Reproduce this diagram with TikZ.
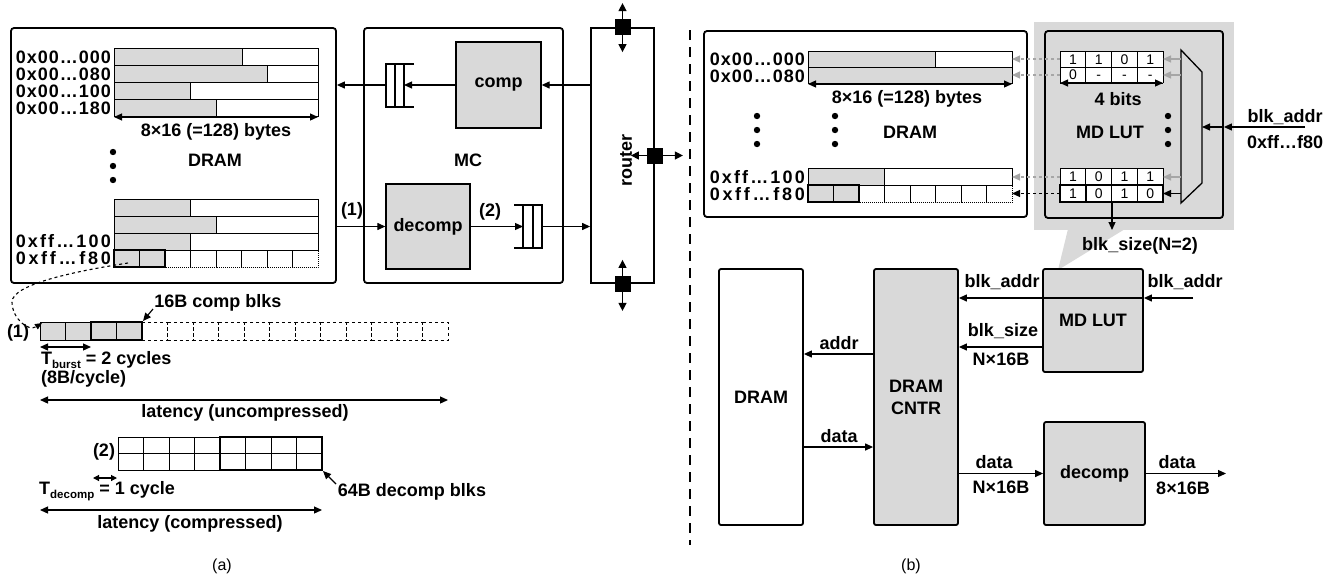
\documentclass[tikz,border=0pt]{standalone}
\usepackage{fontspec}
\setmainfont{Liberation Sans}
\usetikzlibrary{arrows.meta,calc}
\definecolor{gfill}{HTML}{D9D9D9}
\definecolor{garr}{HTML}{A6A6A6}
\newcommand\lblfont{\fontsize{18}{22}\selectfont\bfseries}
\def\spA#1{#1\spB}
\def\spB#1{\ifx#1\relax\else\hfil#1\expandafter\spB\fi}
\newcommand\addrlbl[1]{\makebox[95pt][s]{\spA#1\relax}}
\newcommand\grayrow[5]{%
  \fill[gfill] (#1,#2) rectangle (#5,#4);
  \draw[cell] (#1,#2) rectangle (#3,#4);
  \draw[cell] (#5,#2) -- (#5,#4);}
\begin{document}
\begin{tikzpicture}[x=1pt,y=-1pt,
  arr/.style={line width=1.2pt,-{Triangle[length=8pt,width=7pt]}},
  darr/.style={line width=1.2pt,{Triangle[length=8pt,width=7pt]}-{Triangle[length=8pt,width=7pt]}},
  rdarr/.style={line width=1.3pt,{Triangle[length=8pt,width=8pt]}-{Triangle[length=8pt,width=8pt]}},
  sdarr/.style={line width=1.2pt,{Triangle[length=6pt,width=6pt]}-{Triangle[length=6pt,width=6pt]}},
  box/.style={draw,line width=1.8pt,rounded corners=3pt,inner sep=0pt},
  gbox/.style={draw,line width=1.3pt,fill=gfill,inner sep=0pt,font=\lblfont},
  lbl/.style={inner sep=0pt,font=\lblfont},
  cell/.style={draw,line width=0.9pt},
  thk/.style={draw,line width=2.2pt},
  que/.style={line width=1.5pt},
  dotc/.style={draw,line width=1pt,densely dotted},
  dashc/.style={draw,line width=0.9pt,dashed},
  num/.style={inner sep=0pt,font=\fontsize{14}{14}\selectfont,text height=10pt,text depth=0pt},
  garrow/.style={line width=1.2pt,garr,dashed,-{Triangle[length=8pt,width=7pt]}},
  gsolid/.style={line width=1.2pt,garr,-{Triangle[length=8pt,width=7pt]}},
]
\useasboundingbox (0,0) rectangle (1340,584);

% ================= (a) =================
\node[box,minimum width=325pt,minimum height=255pt] (dramA) at (173.5,155.5) {};
\grayrow{114}{48}{318}{65}{242}
\grayrow{114}{65}{318}{82}{267}
\grayrow{114}{82}{318}{99}{190}
\grayrow{114}{99}{318}{116}{216}
\node[lbl,anchor=east] (aA1) at (111,57) {\addrlbl{0x00…000}};
\node[lbl,anchor=east] (aA2) at (111,74) {\addrlbl{0x00…080}};
\node[lbl,anchor=east] (aA3) at (111,91) {\addrlbl{0x00…100}};
\node[lbl,anchor=east] (aA4) at (111,108) {\addrlbl{0x00…180}};
\coordinate (bA1) at (114,117); \coordinate (bA2) at (318,117);
\draw[darr] (bA1) -- (bA2);
\node[lbl] (bytesA) at (216,132) {8×16 (=128) bytes};
\foreach \yy in {152,166,180} \fill (113,\yy) circle (3.2pt);
\node[lbl] (dramAl) at (215,160) {DRAM};
\grayrow{114}{199}{318}{216}{190}
\grayrow{114}{216}{318}{233}{216}
\grayrow{114}{233}{318}{250}{190}
\fill[gfill] (114,250) rectangle (165,267);
\foreach \i in {0,...,7} \draw[dotc] ({114+25.5*\i},250) rectangle ++(25.5,17);
\draw[thk] (114,250) rectangle (165,267);
\node[lbl,anchor=east] (aA5) at (111,241) {\addrlbl{0xff…100}};
\node[lbl,anchor=east] (aA6) at (111,258) {\addrlbl{0xff…f80}};

% MC
\node[box,minimum width=199pt,minimum height=255pt] (mc) at (463.5,155.5) {};
\node[lbl] (mcl) at (468,160) {MC};
\node[gbox,minimum width=85pt,minimum height=86pt] (comp) at (498.5,85) {comp};
\node[gbox,minimum width=84pt,minimum height=85pt] (decomp) at (428,226.5) {decomp};
\draw[que] (414,64) -- (386,64) -- (386,107) -- (414,107);
\draw[que] (395,64) -- (395,107) (404,64) -- (404,107);
\coordinate (q1in) at (404,85); \coordinate (q1out) at (386,85);
\draw[que] (514,205) -- (542,205) -- (542,248) -- (514,248);
\draw[que] (523,205) -- (523,248) (533,205) -- (533,248);
\coordinate (q2in) at (523,226.5); \coordinate (q2out) at (542,226.5);

% router
\node[draw,line width=1.8pt,minimum width=63pt,minimum height=255pt,inner sep=0pt] (router) at (622.5,155.5) {};
\node[lbl,rotate=90] (routerl) at (626,160) {router};
\draw[arr] (comp.east -| router.west) -- (comp.east);
\draw[arr] (comp.west) -- (q1in);
\draw[arr] (q1out) -- (q1out -| dramA.east);
\draw[arr] (decomp.west -| dramA.east) -- (decomp.west);
\node[lbl] (l1) at (352,211) {(1)};
\draw[arr] (decomp.east) -- (q2in);
\node[lbl] (l2) at (490,212) {(2)};
\draw[arr] (q2out) -- (q2out -| router.west);
\draw[rdarr] ($(router.north)+(0,-24)$) -- ($(router.north)+(0,25)$);
\node[fill=black,minimum size=16pt,inner sep=0pt] (sq1) at (router.north) {};
\draw[rdarr] ($(router.east)+(-24,0)$) -- ($(router.east)+(28,0)$);
\node[fill=black,minimum size=16pt,inner sep=0pt] (sq2) at (router.east) {};
\draw[rdarr] ($(router.south)+(0,-24)$) -- ($(router.south)+(0,27)$);
\node[fill=black,minimum size=16pt,inner sep=0pt] (sq3) at (router.south) {};

% divider
\draw[line width=2pt,dash pattern=on 10pt off 7pt] (690,30) -- (690,545);

% bottom-left timeline
\fill[gfill] (40,322) rectangle (142,340);
\foreach \i in {0,...,3} \draw[cell] ({40+25.5*\i},322) rectangle ++(25.5,18);
\foreach \i in {4,...,15} \draw[dashc] ({40+25.5*\i},322) rectangle ++(25.5,18);
\draw[thk] (91,322) rectangle (142,340);
\coordinate (curveS) at (128,263);
\coordinate (r1start) at (42,323);
\draw[line width=1.1pt,dashed,-{Triangle[length=7pt,width=6pt]}] (curveS) .. controls (70,272) and (12,285) .. (12,302) .. controls (12,318) and (28,332) .. (r1start);
\node[lbl] (l1b) at (18,333) {(1)};
\node[lbl] (cblk) at (218,303) {16B comp blks};
\coordinate (cblkA) at (153,309); \coordinate (cblkB) at (143,321);
\draw[arr] (cblkA) -- (cblkB);
\coordinate (tb1) at (40,347); \coordinate (tb2) at (91,347);
\draw[darr] (tb1) -- (tb2);
\node[lbl,anchor=west] (tburst) at (41,360) {T\raisebox{-3.5pt}{\fontsize{11.5}{12}\selectfont burst} = 2 cycles};
\node[lbl,anchor=west] (bpc) at (41,379) {(8B/cycle)};
\coordinate (lu1) at (40,400); \coordinate (lu2) at (448,400);
\draw[darr] (lu1) -- (lu2);
\node[lbl] (lunc) at (245,413) {latency (uncompressed)};
\foreach \i in {0,...,8} \draw[cell] ({118+25.5*\i},437) -- ++(0,33);
\draw[cell] (118,437) -- (322,437) (118,453.5) -- (322,453.5) (118,470) -- (322,470);
\draw[thk] (220,437) rectangle (322,470);
\node[lbl] (l2b) at (104,452) {(2)};
\coordinate (td1) at (93,478); \coordinate (td2) at (117,478);
\draw[sdarr] (td1) -- (td2);
\node[lbl,anchor=west] (tdec) at (39,491) {T\raisebox{-3.5pt}{\fontsize{11.5}{12}\selectfont decomp} = 1 cycle};
\node[lbl] (dblk) at (412,492) {64B decomp blks};
\coordinate (dblkA) at (336,484); \coordinate (dblkB) at (323,471);
\draw[arr] (dblkA) -- (dblkB);
\coordinate (lc1) at (40,510); \coordinate (lc2) at (322,510);
\draw[darr] (lc1) -- (lc2);
\node[lbl] (lcomp) at (190,524) {latency (compressed)};

\node[font=\fontsize{16}{16}\selectfont] (capa) at (222,566) {(a)};
\node[font=\fontsize{16}{16}\selectfont] (capb) at (911,566) {(b)};

% ================= (b) top =================
\node[box,minimum width=323pt,minimum height=186pt] (dramB) at (865.5,124) {};
\grayrow{808}{51}{1012}{67}{935}
\fill[gfill] (808,67) rectangle (1012,83); \draw[cell] (808,67) rectangle (1012,83);
\draw[darr] (808,84) -- (1012,84);
\node[lbl] (bytesB) at (907,99) {8×16 (=128) bytes};
\foreach \xx in {757,835} \foreach \yy in {116,130,144} \fill (\xx,\yy) circle (3.2pt);
\node[lbl] (dramBl) at (910,132) {DRAM};
\grayrow{808}{168}{1012}{185}{884}
\fill[gfill] (808,185) rectangle (859,202);
\foreach \i in {0,...,7} \draw[dotc] ({808+25.5*\i},185) rectangle ++(25.5,17);
\draw[thk] (808,185) rectangle (859,202);
\node[lbl,anchor=east] (aB1) at (805,59) {\addrlbl{0x00…000}};
\node[lbl,anchor=east] (aB2) at (805,76) {\addrlbl{0x00…080}};
\node[lbl,anchor=east] (aB3) at (805,177) {\addrlbl{0xff…100}};
\node[lbl,anchor=east] (aB4) at (805,194) {\addrlbl{0xff…f80}};

% MD LUT callout
\fill[gfill] (1034,22) rectangle (1234,230);
\fill[gfill] (1068,229) -- (1125,229) -- (1058,270) -- cycle;
\node[box,fill=gfill,minimum width=178pt,minimum height=187pt] (mdlutA) at (1134,124.5) {};
% tables
\fill[white] (1060,51) rectangle (1163,83);
\fill[white] (1060,168) rectangle (1163,202);
\foreach \i in {0,...,4} {\draw[cell] ({1060+25.75*\i},51) -- ++(0,32);
  \draw[cell] ({1060+25.75*\i},168) -- ++(0,34);}
\draw[cell] (1060,51) -- (1163,51) (1060,67) -- (1163,67) (1060,83) -- (1163,83);
\draw[cell] (1060,168) -- (1163,168) (1060,185) -- (1163,185) (1060,202) -- (1163,202);
\foreach \v [count=\i from 0] in {1,1,0,1} \node[num] at ({1072.9+25.75*\i},59.5) {\v};
\foreach \v [count=\i from 0] in {0,-,-,-} \node[num] at ({1072.9+25.75*\i},74.5) {\v};
\foreach \v [count=\i from 0] in {1,0,1,1} \node[num] at ({1072.9+25.75*\i},176.5) {\v};
\foreach \v [count=\i from 0] in {1,0,1,0} \node[num] at ({1072.9+25.75*\i},193.5) {\v};
\draw[thk] (1060,185) rectangle (1163,202);
\draw[thk] (1085.75,185) -- (1085.75,202);
\draw[darr] (1060,83) -- (1163,83);
\node[lbl] (fourbits) at (1118,99) {4 bits};
\node[lbl] (mdlutAl) at (1110,132) {MD LUT};
\foreach \yy in {116,130,144} \fill (1168,\yy) circle (3.2pt);
% mux
\draw[line width=1.3pt] (1181,50) -- (1202,72) -- (1202,183) -- (1181,203) -- cycle;
\foreach \yy in {59,75,177} {
  \draw[gsolid] (1181,\yy) -- (1163,\yy);
  \draw[garrow] (1060,\yy) -- (1012,\yy);}
\draw[arr] (1181,193.5) -- (1163,193.5);
\draw[line width=1.2pt,dashed,-{Triangle[length=8pt,width=7pt]}] (1060,193.5) -- (1012,193.5);
\coordinate (ext) at (1305,127);
\coordinate (muxin) at (1202,127);
\draw[arr] (ext) -- (ext -| mdlutA.east);
\draw[arr] (ext -| mdlutA.east) -- (muxin);
\node[lbl] (baTop) at (1285,117) {blk\_addr};
\node[lbl] (adTop) at (1285,142) {0xff…f80};
\coordinate (bsA) at (1112,202); \coordinate (bsB) at (1112,230);
\draw[arr] (bsA) -- (bsB);
\node[lbl] (bsTop) at (1140,246) {blk\_size(N=2)};

% ================= (b) bottom =================
\node[draw,line width=1.8pt,rounded corners=2pt,minimum width=84pt,minimum height=256pt,inner sep=0pt,font=\lblfont] (dramC) at (761,397) {DRAM};
\node[gbox,line width=1.8pt,rounded corners=2pt,minimum width=84pt,minimum height=256pt,align=center] (cntr) at (916,397) {DRAM\\CNTR};
\node[gbox,line width=1.8pt,rounded corners=2pt,minimum width=100pt,minimum height=103pt] (mdlutB) at (1093,320.5) {MD LUT};
\node[gbox,line width=1.8pt,rounded corners=2pt,minimum width=101pt,minimum height=103pt] (decompB) at (1094.5,473.5) {decomp};
\coordinate (ba) at (1193,298);
\draw[arr] (ba) -- (ba -| mdlutB.east);
\draw[arr] (ba -| mdlutB.east) -- (ba -| cntr.east);
\node[lbl] (baL) at (1002,282) {blk\_addr};
\node[lbl] (baR) at (1185,282) {blk\_addr};
\coordinate (bs) at (1043,347);
\draw[arr] (bs) -- (bs -| cntr.east);
\node[lbl] (bsL) at (1003,331) {blk\_size};
\node[lbl] (bsN) at (1001,359) {N×16B};
\coordinate (ad) at (874,354);
\draw[arr] (ad) -- (ad -| dramC.east);
\node[lbl] (adL) at (839,343) {addr};
\coordinate (dt) at (803,447);
\draw[arr] (dt) -- (dt -| cntr.west);
\node[lbl] (dtL) at (839,436) {data};
\draw[arr] (decompB.west -| cntr.east) -- (decompB.west);
\node[lbl] (dt2) at (994,462) {data};
\node[lbl] (dt2n) at (1001,487) {N×16B};
\coordinate (outend) at (1226,473.5);
\draw[arr] (decompB.east) -- (outend);
\node[lbl] (dt3) at (1177,462) {data};
\node[lbl] (dt3n) at (1183,488) {8×16B};
\end{tikzpicture}
\end{document}
